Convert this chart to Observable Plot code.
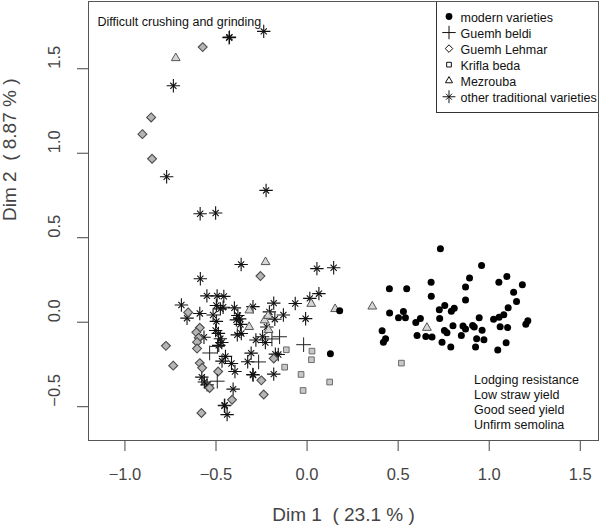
<!DOCTYPE html>
<html><head><meta charset="utf-8">
<script src="https://cdn.jsdelivr.net/npm/d3@7"></script>
<script src="https://cdn.jsdelivr.net/npm/@observablehq/plot@0.6"></script>
<style>body{margin:0;background:#fff;}</style>
</head><body><div id="chart"></div>
<script>
// ---- data (Dim 1, Dim 2) per group ----
const modern = [[0.732,0.435],[0.958,0.336],[0.452,0.198],[0.547,0.198],[0.681,0.237],[0.892,0.261],[0.870,0.208],[1.053,0.237],[1.097,0.271],[1.182,0.222],[1.134,0.178],[0.682,0.154],[0.870,0.132],[1.150,0.122],[1.104,0.085],[0.756,0.099],[0.808,0.082],[0.792,0.065],[0.726,0.074],[0.453,0.055],[0.529,0.064],[0.502,0.027],[0.540,0.027],[0.622,0.022],[0.597,-0.001],[0.728,0.022],[0.945,0.027],[1.024,0.018],[1.054,0.030],[1.080,0.044],[1.212,0.008],[1.201,-0.012],[0.412,-0.050],[0.431,-0.098],[0.419,-0.118],[0.604,-0.079],[0.652,-0.084],[0.686,-0.088],[0.754,-0.049],[0.768,-0.063],[0.801,-0.021],[0.856,-0.022],[0.870,-0.040],[0.909,-0.019],[0.918,-0.029],[0.961,-0.047],[0.847,-0.079],[0.931,-0.098],[0.971,-0.104],[0.741,-0.118],[0.789,-0.146],[0.925,-0.147],[1.047,-0.165],[1.093,-0.122],[1.060,-0.027],[1.101,-0.032],[0.128,-0.186],[0.179,0.068]];
const guemhBeldi = [[-0.535,-0.182],[-0.493,-0.349],[-0.492,-0.143],[-0.266,-0.235],[-0.193,-0.099],[-0.151,-0.086],[-0.019,-0.133]];
const guemhLehmar = [[-0.573,1.628],[-0.856,1.212],[-0.904,1.113],[-0.851,0.967],[-0.256,0.273],[-0.653,0.058],[-0.589,-0.033],[-0.608,-0.060],[-0.595,-0.092],[-0.604,-0.118],[-0.604,-0.156],[-0.775,-0.140],[-0.735,-0.257],[-0.589,-0.242],[-0.576,-0.270],[-0.488,-0.292],[-0.535,-0.389],[-0.183,-0.215],[-0.251,-0.344],[-0.238,-0.428],[-0.412,-0.459],[-0.580,-0.537]];
const kriflaBeda = [[-0.114,-0.163],[0.027,-0.171],[0.024,-0.222],[-0.123,-0.266],[-0.033,-0.309],[-0.022,-0.404],[0.124,-0.354],[0.518,-0.242]];
const mezrouba = [[-0.721,1.563],[-0.228,0.356],[-0.317,0.070],[-0.318,-0.028],[-0.233,0.011],[-0.214,0.038],[-0.211,-0.046],[0.023,0.109],[0.154,0.078],[0.358,0.093],[0.658,-0.033]];
const otherTraditional = [[-0.426,1.687],[-0.428,1.684],[-0.238,1.721],[-0.734,1.399],[-0.771,0.861],[-0.587,0.642],[-0.502,0.646],[-0.225,0.780],[-0.362,0.342],[-0.586,0.257],[0.054,0.317],[0.146,0.322],[-0.550,0.156],[-0.494,0.156],[-0.457,0.153],[-0.690,0.102],[-0.659,0.024],[-0.589,0.052],[-0.498,0.099],[-0.476,0.079],[-0.461,0.089],[-0.516,0.043],[-0.498,0.005],[-0.399,0.085],[-0.380,0.040],[-0.370,0.020],[-0.388,0.014],[-0.366,-0.013],[-0.297,0.092],[-0.183,0.113],[-0.207,0.061],[-0.130,0.043],[-0.177,0.018],[-0.221,-0.028],[-0.065,0.111],[-0.008,0.021],[0.015,0.141],[0.065,0.169],[-0.566,-0.089],[-0.502,-0.049],[-0.487,-0.066],[-0.476,-0.098],[-0.468,-0.120],[-0.485,-0.137],[-0.383,-0.075],[-0.361,-0.067],[-0.281,-0.105],[-0.244,-0.086],[-0.229,-0.120],[-0.448,-0.202],[-0.467,-0.230],[-0.415,-0.244],[-0.307,-0.183],[-0.326,-0.234],[-0.174,-0.189],[-0.158,-0.191],[-0.578,-0.325],[-0.396,-0.292],[-0.296,-0.312],[-0.298,-0.309],[-0.183,-0.307],[-0.564,-0.354],[-0.549,-0.371],[-0.406,-0.396],[-0.454,-0.494],[-0.452,-0.491],[-0.439,-0.547]];

const xTicks = [-1.0, -0.5, 0.0, 0.5, 1.0, 1.5];
const yTicks = [-0.5, 0.0, 0.5, 1.0, 1.5];
const legendLabels = ["modern varieties", "Guemh beldi", "Guemh Lehmar", "Krifla beda", "Mezrouba", "other traditional varieties"];
const topNote = "Difficult crushing and grinding";
const bottomNote = ["Lodging resistance", "Low straw yield", "Good seed yield", "Unfirm semolina"];
const xTitle = "Dim 1  ( 23.1 % )";
const yTitle = "Dim 2  ( 8.87 % )";

const fmt = d3.format(".1f");
const X = d => d[0], Y = d => d[1];
const FONT = "'Liberation Sans', Arial, Helvetica, sans-serif";

// legend row symbol styles
const legSyms = [
  [{symbol: "circle", r: 3.4, fill: "#000", stroke: "none"}],
  [{symbol: "plus", r: 4.4, stroke: "#111", fill: "none"}],
  [{symbol: "diamond2", r: 3.4, stroke: "#111", fill: "none"}],
  [{symbol: "square2", r: 3.0, stroke: "#111", fill: "none"}],
  [{symbol: "triangle2", r: 3.4, stroke: "#111", fill: "none"}],
  [{symbol: "plus", r: 4.2, stroke: "#111", fill: "none"}, {symbol: "times", r: 2.8, stroke: "#111", fill: "none"}]
];
const legendMarks = [];
legSyms.forEach((specs, i) => {
  specs.forEach(s => legendMarks.push(Plot.dot([legendLabels[i]], {frameAnchor: "top-left", dx: 360.5, dy: 15 + 16.05 * i, ...s, strokeWidth: 1})));
});

const chart = Plot.plot({
  width: 600, height: 532,
  marginLeft: 88, marginRight: 2, marginTop: 1, marginBottom: 92,
  x: {domain: [-1.2, 1.6], label: null},
  y: {domain: [-0.7, 1.898], label: null},
  style: {fontFamily: FONT, fontSize: "12.5px", background: "#fff", color: "#222"},
  marks: [
    Plot.axisX({ticks: xTicks, tickSize: 11, tickPadding: 17, tickFormat: fmt, fontSize: 16.5, color: "#444", label: null}),
    Plot.axisY({ticks: yTicks, tickSize: 11, tickFormat: () => "", color: "#444", label: null}),
    Plot.text(yTicks, {y: d => d, text: d => fmt(d), frameAnchor: "left", dx: -34, rotate: -90, fontSize: 16.5, fill: "#444"}),
    Plot.text([xTitle], {text: d => d, frameAnchor: "bottom", dy: 80, fontSize: 19, fill: "#444"}),
    Plot.text([yTitle], {text: d => d, frameAnchor: "left", dx: -79, rotate: -90, fontSize: 19, fill: "#444"}),
    // points
    Plot.dot(otherTraditional, {x: X, y: Y, symbol: "plus", r: 4.4, stroke: "#111", strokeWidth: 1.1}),
    Plot.dot(otherTraditional, {x: X, y: Y, symbol: "times", r: 2.9, stroke: "#111", strokeWidth: 1.1}),
    Plot.dot(guemhLehmar, {x: X, y: Y, symbol: "diamond2", r: 4, stroke: "#4a4a4a", fill: "#b5b5b5", strokeWidth: 1.1}),
    Plot.dot(guemhBeldi, {x: X, y: Y, symbol: "plus", r: 4.8, stroke: "#222", strokeWidth: 1}),
    Plot.dot(kriflaBeda, {x: X, y: Y, symbol: "square2", r: 3.6, stroke: "#6a6a6a", fill: "#c8c8c8", strokeWidth: 1}),
    Plot.dot(mezrouba, {x: X, y: Y, symbol: "triangle2", r: 4.2, stroke: "#555", fill: "#d6d6d6", strokeWidth: 1}),
    Plot.dot(modern, {x: X, y: Y, r: 3.5, fill: "#000"}),
    // annotations
    Plot.text([topNote], {text: d => d, frameAnchor: "top-left", dx: 9, dy: 15.5, textAnchor: "start", fill: "#111"}),
    Plot.text([bottomNote.join("\n")], {text: d => d, frameAnchor: "top-left", dx: 385.5, dy: 399.8, textAnchor: "start", lineAnchor: "middle", lineHeight: 1.2, fill: "#111"}),
    // legend
    Plot.frame({insetLeft: 348, insetBottom: 328, stroke: "#333", strokeWidth: 1}),
    ...legendMarks,
    Plot.text([legendLabels.join("\n")], {text: d => d, frameAnchor: "top-left", dx: 372, dy: 55.1, textAnchor: "start", lineAnchor: "middle", lineHeight: 16.05 / 12.5, fill: "#111"}),
    Plot.frame({stroke: "#555", strokeWidth: 1})
  ]
});
document.getElementById("chart").appendChild(chart);
</script>
</body></html>
